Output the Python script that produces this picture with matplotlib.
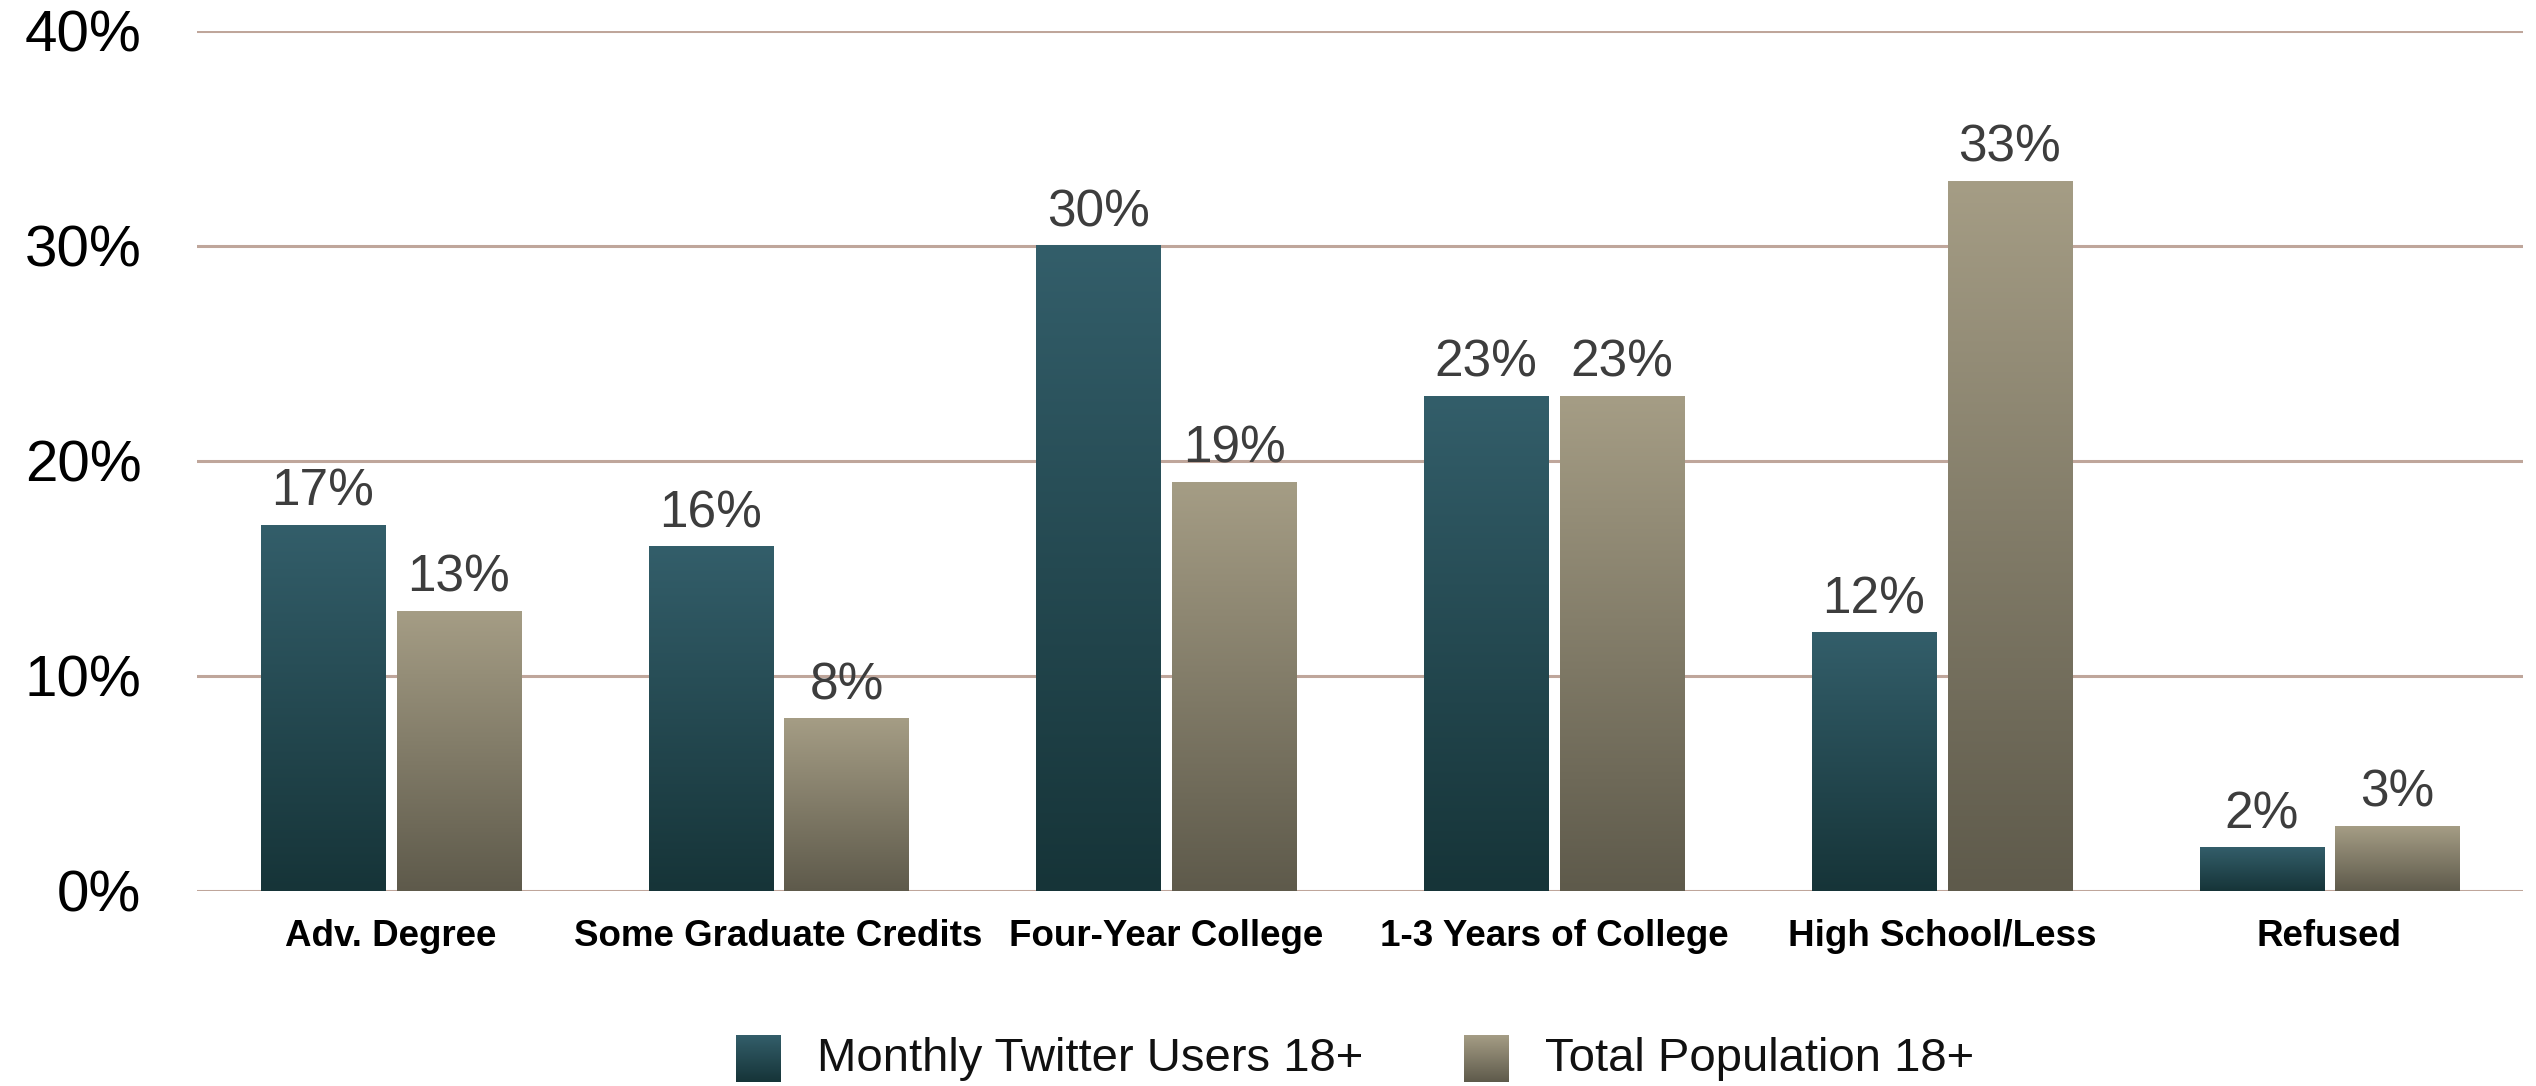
import matplotlib
matplotlib.use("Agg")
import matplotlib.pyplot as plt
import numpy as np
from matplotlib.colors import LinearSegmentedColormap
from matplotlib.transforms import ScaledTranslation

categories = ["Adv. Degree", "Some Graduate Credits", "Four-Year College",
              "1-3 Years of College", "High School/Less", "Refused"]
twitter_users = [17, 16, 30, 23, 12, 2]
total_population = [13, 8, 19, 23, 33, 3]
series_names = ["Monthly Twitter Users 18+", "Total Population 18+"]
y_ticks = [0, 10, 20, 30, 40]

TEAL = ("#335E6A", "#163438")   # top, bottom
TAN = ("#A59D85", "#5E5A4B")
GRID = "#BFA69B"
SANS = "Liberation Sans"

fig = plt.figure(figsize=(25.36, 10.86), dpi=100)
ax = fig.add_axes([0.0777, 0.1796, 0.9173, 0.7919])

def grad_cmap(cols):
    return LinearSegmentedColormap.from_list("g", [cols[1], cols[0]])

x = np.arange(len(categories))
w = 0.32
gap = 0.015
grad = np.linspace(0, 1, 256).reshape(-1, 1)
for vals, offs, cols in [(twitter_users, -(w / 2 + gap), TEAL), (total_population, w / 2 + gap, TAN)]:
    bars = ax.bar(x + offs, vals, w, color="none", edgecolor="none", zorder=3)
    cmap = grad_cmap(cols)
    for b, v in zip(bars, vals):
        x0 = b.get_x()
        ax.imshow(grad, cmap=cmap, origin="lower", aspect="auto",
                  extent=(x0, x0 + b.get_width(), 0, v), zorder=3)
        ax.text(x0 + b.get_width() / 2, v + 0.4, f"{v}%", ha="center", va="bottom",
                fontsize=37, color="#3D3D3D", family=SANS)

ax.set_xlim(-0.5, len(categories) - 0.5)
ax.set_ylim(0, 40)
ax.set_yticks(y_ticks)
ax.set_yticklabels([f"{t}%" for t in y_ticks], fontsize=42, family=SANS)
shift = ScaledTranslation(0, -4 / 100, fig.dpi_scale_trans)
for lab in ax.get_yticklabels():
    lab.set_transform(lab.get_transform() + shift)
ax.yaxis.grid(True, color=GRID, linewidth=2.2, zorder=1)
ax.set_axisbelow(True)
ax.tick_params(axis="y", length=0, pad=40)
ax.tick_params(axis="x", length=0, pad=20)
ax.set_xticks(x)
ax.set_xticklabels(categories, fontsize=26.5, fontweight="bold", family=SANS)
for s in ax.spines.values():
    s.set_visible(False)

# legend with gradient swatches
for i, (name, cols) in enumerate(zip(series_names, [TEAL, TAN])):
    lx = 736 / 2536 + i * (1464 - 736) / 2536
    sax = fig.add_axes([lx, 1 - 1082 / 1086, 45 / 2536, 47 / 1086])
    sax.imshow(grad, cmap=grad_cmap(cols), origin="lower", aspect="auto")
    sax.axis("off")
    fig.text(lx + 81 / 2536, 1 - 1059 / 1086, name, fontsize=34, va="center",
             ha="left", family=SANS, color="#111111")

fig.savefig("out.png", dpi=100)
